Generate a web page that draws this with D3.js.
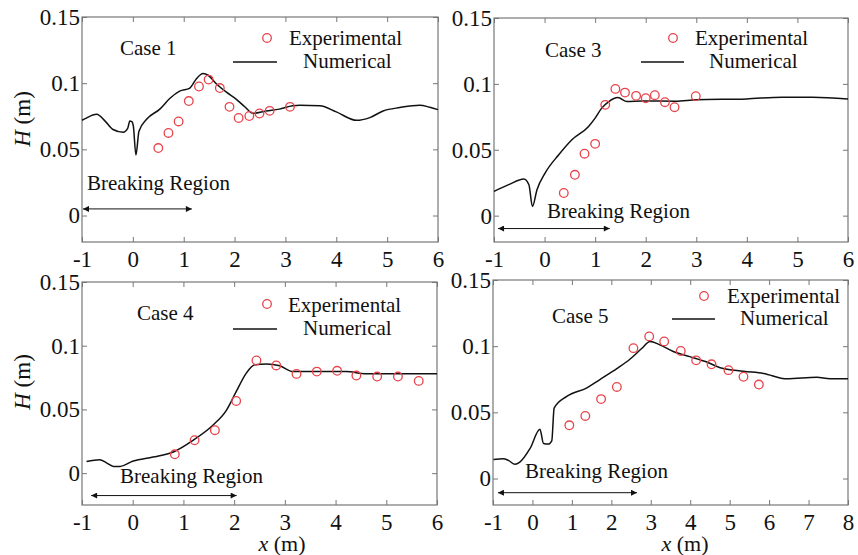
<!DOCTYPE html>
<html>
  <head>
    <meta charset="utf-8" />
    <style>
      body {
        margin: 0;
        background: #fff;
      }
      svg,
      svg text {
        font-family: "Liberation Serif", "Times New Roman", serif;
      }
      .axis .domain {
        display: none;
      }
      .axis .tick line {
        stroke: #777;
      }
      .axis .tick text {
        font-size: 23px;
        fill: #111;
      }
      .frame {
        fill: none;
        stroke: #777;
        stroke-width: 1.2;
      }
      .num {
        fill: none;
        stroke: #111;
        stroke-width: 1.5;
      }
      .exp {
        fill: none;
        stroke: #e8434b;
        stroke-width: 1.3;
      }
      .label {
        font-size: 21px;
        fill: #111;
      }
    </style>
  </head>
  <body>
    <svg width="858" height="555"></svg>

    <script src="https://d3js.org/d3.v7.min.js"></script>
    <script>
      // numerical curves, [x (m), H (m)]
      let case1Num = [
        [-1, 0.072], [-0.94, 0.0732], [-0.71, 0.0765], [-0.55, 0.0715], [-0.39, 0.065],
        [-0.19, 0.0629], [-0.1, 0.066], [-0.06, 0.0714], [-0.02, 0.071], [0.01, 0.0675],
        [0.06, 0.0458], [0.12, 0.0637], [0.27, 0.0727], [0.53, 0.0804], [0.73, 0.0886],
        [0.92, 0.094], [1.12, 0.0963], [1.25, 0.1034], [1.38, 0.1073], [1.48, 0.106],
        [1.64, 0.0996], [1.84, 0.0932], [2.03, 0.088], [2.2, 0.0822], [2.36, 0.0772],
        [2.62, 0.079], [2.88, 0.0804], [3.14, 0.0829], [3.28, 0.0834], [3.68, 0.0829],
        [4.0, 0.0783], [4.4, 0.0719], [4.66, 0.074], [4.92, 0.079], [5.25, 0.0816],
        [5.64, 0.0834], [5.84, 0.0818], [6.0, 0.080]
      ];
      let case1Exp = [
        [0.5, 0.051], [0.7, 0.0624], [0.9, 0.0711], [1.1, 0.0865], [1.3, 0.0975],
        [1.49, 0.1027], [1.71, 0.0963], [1.9, 0.0821], [2.08, 0.0737], [2.29, 0.0752],
        [2.49, 0.0771], [2.69, 0.0791], [3.09, 0.0821]
      ];

      let case3Num = [
        [-1, 0.0184], [-0.71, 0.0235], [-0.41, 0.0278], [-0.31, 0.0235], [-0.24, 0.007],
        [-0.15, 0.0197], [0.01, 0.0323], [0.28, 0.0462], [0.54, 0.0576], [0.87, 0.0677],
        [1.0, 0.074], [1.13, 0.0816], [1.27, 0.0866], [1.45, 0.0896], [1.63, 0.0866],
        [1.92, 0.0871], [2.58, 0.0869], [3.0, 0.0879], [3.99, 0.0886], [4.7, 0.0899],
        [5.3, 0.0899], [6.0, 0.0886]
      ];
      let case3Exp = [
        [0.38, 0.0172], [0.6, 0.031], [0.79, 0.047], [1.0, 0.0545], [1.2, 0.0841],
        [1.4, 0.0962], [1.59, 0.0934], [1.81, 0.0909], [2.0, 0.0891], [2.18, 0.0914],
        [2.38, 0.0861], [2.57, 0.0823], [2.99, 0.0907]
      ];

      let case4Num = [
        [-0.91, 0.0092], [-0.65, 0.0106], [-0.51, 0.0079], [-0.38, 0.0053], [-0.25, 0.0053],
        [0.01, 0.0095], [0.4, 0.0126], [0.8, 0.0166], [1.19, 0.0258], [1.58, 0.0376],
        [1.85, 0.0495], [2.04, 0.0639], [2.24, 0.0785], [2.41, 0.085], [2.64, 0.0856],
        [2.9, 0.0842], [3.16, 0.0797], [3.69, 0.0797], [4.21, 0.0797], [4.6, 0.078],
        [5.26, 0.078], [5.85, 0.078], [6.0, 0.078]
      ];
      let case4Exp = [
        [0.83, 0.0148], [1.22, 0.0258], [1.62, 0.0337], [2.04, 0.0566], [2.44, 0.0884],
        [2.83, 0.0845], [3.23, 0.0779], [3.63, 0.0797], [4.03, 0.0803], [4.41, 0.0766],
        [4.82, 0.0758], [5.23, 0.0758], [5.64, 0.0724]
      ];

      let case5Num = [
        [-0.99, 0.0143], [-0.74, 0.015], [-0.61, 0.0137], [-0.44, 0.0107], [-0.32, 0.0124],
        [-0.06, 0.0227], [0.19, 0.0372], [0.28, 0.0265], [0.4, 0.026], [0.49, 0.0285],
        [0.55, 0.0532], [0.87, 0.062], [1.38, 0.0685], [1.71, 0.0748], [2.14, 0.083],
        [2.47, 0.0901], [2.77, 0.0982], [2.98, 0.1036], [3.23, 0.101], [3.57, 0.096],
        [3.99, 0.0921], [4.42, 0.088], [4.76, 0.0837], [5.35, 0.0811], [5.86, 0.0794],
        [6.45, 0.0753], [7.21, 0.0765], [7.54, 0.0753], [8.0, 0.0753]
      ];
      let case5Exp = [
        [0.935, 0.0402], [1.34, 0.0473], [1.74, 0.06], [2.14, 0.0692], [2.56, 0.0985],
        [2.96, 0.1074], [3.34, 0.1036], [3.76, 0.0964], [4.15, 0.0893], [4.54, 0.0863],
        [4.97, 0.0819], [5.35, 0.0769], [5.74, 0.071]
      ];

      let caseNames = ["Case 1", "Case 3", "Case 4", "Case 5"];
      let xMaxes = [6, 6, 6, 8];
      let yMins = [-0.02, -0.02, -0.025, -0.02];
      let yTicks = [0, 0.05, 0.1, 0.15];
      // breaking region arrows: [xFrom, xTo, H]
      let breaking = [
        [-1, 1.16, 0.005],
        [-0.94, 1.29, -0.0098],
        [-0.84, 2.05, -0.0176],
        [-0.9, 2.65, -0.0107]
      ];
      let numSeries = [case1Num, case3Num, case4Num, case5Num];
      let expSeries = [case1Exp, case3Exp, case4Exp, case5Exp];

      // layout per panel (pixels)
      let boxes = [
        { x0: 82, x1: 438, y0: 17, y1: 242 },
        { x0: 494, x1: 848, y0: 18, y1: 242 },
        { x0: 82, x1: 437, y0: 282, y1: 505 },
        { x0: 493, x1: 848, y0: 280, y1: 505 }
      ];
      let texts = [
        { caseX: 120, caseY: 55, circ: [267, 38], expX: 289, expY: 45, line: [233, 277, 62], numX: 303, numY: 68, brX: 87, brY: 190 },
        { caseX: 545, caseY: 57, circ: [673, 38], expX: 695, expY: 45, line: [641, 684, 62], numX: 709, numY: 68, brX: 547, brY: 218 },
        { caseX: 137, caseY: 320, circ: [267, 304], expX: 288, expY: 312, line: [233, 277, 329], numX: 303, numY: 335, brX: 120, brY: 483 },
        { caseX: 552, caseY: 323, circ: [704, 296], expX: 727, expY: 303, line: [672, 715, 319], numX: 740, numY: 325, brX: 525, brY: 478 }
      ];

      let svg = d3.select("svg");

      let defs = svg.append("defs");
      defs
        .append("marker")
        .attr("id", "head")
        .attr("viewBox", "0 0 10 10")
        .attr("refX", 10)
        .attr("refY", 5)
        .attr("markerWidth", 9)
        .attr("markerHeight", 6)
        .attr("markerUnits", "userSpaceOnUse")
        .attr("orient", "auto-start-reverse")
        .append("path")
        .attr("d", "M0,0 L10,5 L0,10 Z")
        .attr("fill", "#111");

      for (let i = 0; i < 4; i++) {
        let b = boxes[i];
        let t = texts[i];
        let x = d3.scaleLinear().domain([-1, xMaxes[i]]).range([b.x0, b.x1]);
        let y = d3.scaleLinear().domain([yMins[i], 0.15]).range([b.y1, b.y0]);
        let xt = d3.range(-1, xMaxes[i] + 1);

        let g = svg.append("g");

        let xAxis = g
          .append("g")
          .attr("class", "axis")
          .attr("transform", `translate(0,${b.y1})`)
          .call(d3.axisBottom(x).tickValues(xt).tickSize(-5).tickPadding(9).tickFormat((d) => String(d)));
        g.append("g")
          .attr("class", "axis")
          .attr("transform", `translate(0,${b.y0})`)
          .call(d3.axisTop(x).tickValues(xt).tickSize(-5).tickFormat(""));
        let yAxis = g
          .append("g")
          .attr("class", "axis")
          .attr("transform", `translate(${b.x0},0)`)
          .call(d3.axisLeft(y).tickValues(yTicks).tickSize(-5).tickPadding(2).tickFormat((d) => String(d)));
        g.append("g")
          .attr("class", "axis")
          .attr("transform", `translate(${b.x1},0)`)
          .call(d3.axisRight(y).tickValues(yTicks).tickSize(-5).tickFormat(""));

        // force the serif face on tick labels
        for (let ax of [xAxis, yAxis]) {
          ax.attr("font-family", null);
          ax.selectAll("text")
            .style("font-family", "'Liberation Serif', serif")
            .style("font-size", "23px");
        }

        g.append("rect")
          .attr("class", "frame")
          .attr("x", b.x0)
          .attr("y", b.y0)
          .attr("width", b.x1 - b.x0)
          .attr("height", b.y1 - b.y0);

        let line = d3
          .line()
          .x((d) => x(d[0]))
          .y((d) => y(d[1]))
          .curve(d3.curveMonotoneX);

        g.append("path").attr("class", "num").attr("d", line(numSeries[i]));

        g.selectAll(".exp")
          .data(expSeries[i])
          .join("circle")
          .attr("class", "exp")
          .attr("cx", (d) => x(d[0]))
          .attr("cy", (d) => y(d[1]))
          .attr("r", 4.3);

        // labels
        g.append("text").attr("class", "label").attr("x", t.caseX).attr("y", t.caseY).text(caseNames[i]);
        g.append("circle").attr("class", "exp").attr("cx", t.circ[0]).attr("cy", t.circ[1]).attr("r", 4.3);
        g.append("text").attr("class", "label").attr("x", t.expX).attr("y", t.expY).text("Experimental");
        g.append("line")
          .attr("x1", t.line[0])
          .attr("x2", t.line[1])
          .attr("y1", t.line[2])
          .attr("y2", t.line[2])
          .attr("stroke", "#111")
          .attr("stroke-width", 1.5);
        g.append("text").attr("class", "label").attr("x", t.numX).attr("y", t.numY).text("Numerical");

        g.append("text").attr("class", "label").attr("x", t.brX).attr("y", t.brY).text("Breaking Region");
        let br = breaking[i];
        g.append("line")
          .attr("x1", x(br[0]) + 1)
          .attr("x2", x(br[1]))
          .attr("y1", y(br[2]))
          .attr("y2", y(br[2]))
          .attr("stroke", "#111")
          .attr("stroke-width", 1)
          .attr("marker-start", "url(#head)")
          .attr("marker-end", "url(#head)");
      }

      // axis titles
      let yTitles = [
        { cx: 22, cy: 119 },
        { cx: 22, cy: 382 }
      ];
      for (let p of yTitles) {
        let tt = svg
          .append("text")
          .attr("class", "label")
          .style("font-size", "23px")
          .attr("text-anchor", "middle")
          .attr("transform", `translate(${p.cx + 8},${p.cy}) rotate(-90)`);
        tt.append("tspan").attr("font-style", "italic").text("H");
        tt.append("tspan").text(" (m)");
      }
      for (let cx of [282, 685]) {
        let tt = svg
          .append("text")
          .attr("class", "label")
          .style("font-size", "22px")
          .attr("text-anchor", "middle")
          .attr("x", cx)
          .attr("y", 551);
        tt.append("tspan").attr("font-style", "italic").text("x");
        tt.append("tspan").text(" (m)");
      }
    </script>
  </body>
</html>
